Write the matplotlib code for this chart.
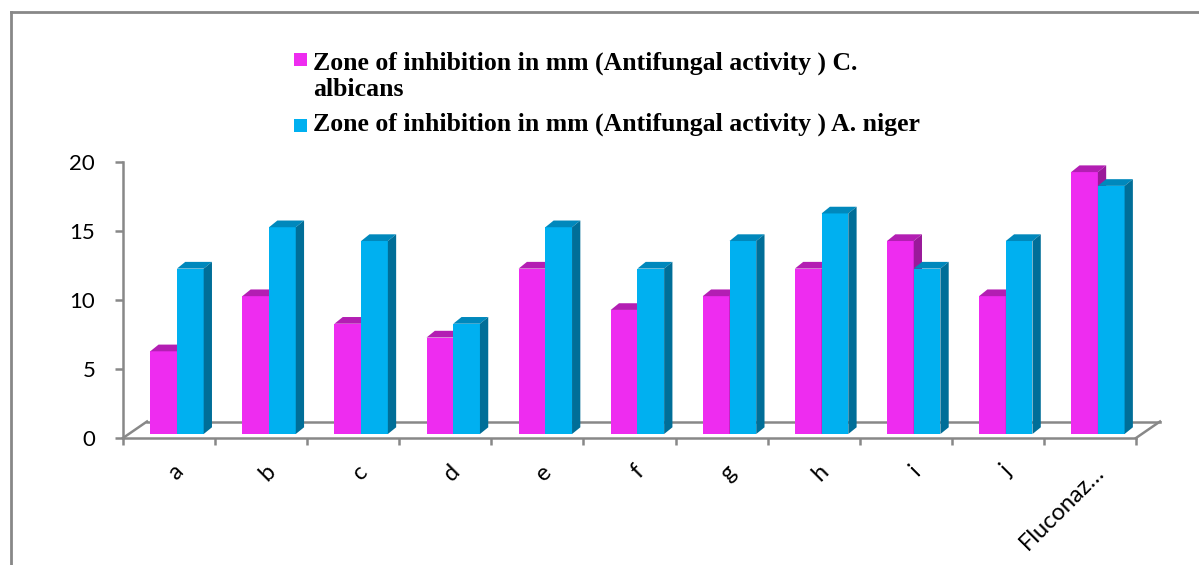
import textwrap
import matplotlib
matplotlib.use('Agg')
import matplotlib.pyplot as plt
from matplotlib.patches import Polygon, Rectangle
from matplotlib.lines import Line2D
from matplotlib.transforms import ScaledTranslation

# Dados do gráfico
categorias = ['a', 'b', 'c', 'd', 'e', 'f', 'g', 'h', 'i', 'j', 'Fluconaz…']
c_albicans = [6, 10, 8, 7, 12, 9, 10, 12, 14, 10, 19]
a_niger = [12, 15, 14, 8, 15, 12, 14, 16, 12, 14, 18]
series = ['Zone of inhibition in mm (Antifungal activity ) C. albicans',
          'Zone of inhibition in mm (Antifungal activity ) A. niger']
y_ticks = [0, 5, 10, 15, 20]

# cores: frente, topo, lateral
cores = [('#EE2CF0', '#B31EB3', '#9A1A9A'),
         ('#00B0F0', '#0088BC', '#006E98')]

W, H = 1199, 565
fig = plt.figure(figsize=(W / 100, H / 100), dpi=100)
ax = fig.add_axes([123 / W, (H - 438) / H, 1013 / W, 275.7 / H])
ax.set_xlim(-0.5, len(categorias) - 0.5)
ax.set_ylim(0, 20)

px_x = 1013 / len(categorias)
px_y = 275.7 / 20
cinza = '#888888'

# chão em perspectiva
fdx, fdy = 24 / px_x, 16.5 / px_y
x0, x1 = -0.5, len(categorias) - 0.5
for xs, ys in [([x0, x1], [0, 0]),
               ([x0 + fdx, x1 + fdx], [fdy, fdy]),
               ([x0, x0 + fdx], [0, fdy]),
               ([x1, x1 + fdx], [0, fdy])]:
    ax.add_line(Line2D(xs, ys, color=cinza, lw=1.8, clip_on=False, zorder=1))

# barras 3D
base = 0.29
largura = 0.29
desloc = 0.086
bdx, bdy = 8.3 / px_x, 6.7 / px_y
for s, valores in enumerate([c_albicans, a_niger]):
    frente, topo, lado = cores[s]
    for i, v in enumerate(valores):
        xl = i + desloc - largura + s * largura
        xr = xl + largura
        yt = base + v
        ax.add_patch(Rectangle((xl, base), largura, v, facecolor=frente,
                               edgecolor='none', zorder=3 + i * 2, clip_on=False))
        ax.add_patch(Polygon([(xl, yt), (xr, yt), (xr + bdx, yt + bdy), (xl + bdx, yt + bdy)],
                             facecolor=topo, edgecolor='none', zorder=3 + i * 2, clip_on=False))
        ax.add_patch(Polygon([(xr, base), (xr + bdx, base + bdy), (xr + bdx, yt + bdy), (xr, yt)],
                             facecolor=lado, edgecolor='none', zorder=3 + i * 2, clip_on=False))

# eixos
for lado_sp in ['top', 'right', 'bottom']:
    ax.spines[lado_sp].set_visible(False)
ax.spines['left'].set_color(cinza)
ax.spines['left'].set_linewidth(1.8)
ax.set_yticks(y_ticks)
ax.tick_params(axis='y', length=6, width=1.8, color=cinza, pad=14, labelsize=16)
ax.set_xticks(range(len(categorias)))
ax.set_xticklabels(categorias, rotation=45, ha='right', va='center',
                   rotation_mode='anchor', fontsize=17)
ax.tick_params(axis='x', which='major', length=0, pad=22)
ax.set_xticks([i - 0.5 for i in range(len(categorias) + 1)], minor=True)
ax.tick_params(axis='x', which='minor', length=5, width=1.8, color=cinza)
for lbl in ax.get_xticklabels() + ax.get_yticklabels():
    lbl.set_family('Lato')
for lbl in ax.get_xticklabels():
    lbl.set_transform(lbl.get_transform() + ScaledTranslation(11 / 100, 0, fig.dpi_scale_trans))

# moldura
fig.add_artist(Line2D([11 / W, 1], [1 - 12 / H, 1 - 12 / H], color=cinza, lw=2))
fig.add_artist(Line2D([11 / W, 11 / W], [0, 1 - 12 / H], color=cinza, lw=2))

# legenda manual
tops = [53, 119]
bases = [69.3, 130.7]
for s, nome in enumerate(series):
    fig.add_artist(Rectangle((294 / W, 1 - (tops[s] + 13) / H), 13 / W, 13 / H,
                             facecolor=cores[s][0], edgecolor='none'))
    for k, linha in enumerate(textwrap.wrap(nome, 56)):
        fig.text(313 / W, 1 - (bases[s] + 27 * k) / H, linha, va='baseline',
                 ha='left', fontsize=18.5, fontweight='bold', family='Liberation Serif')

fig.savefig('out.png', dpi=100)
